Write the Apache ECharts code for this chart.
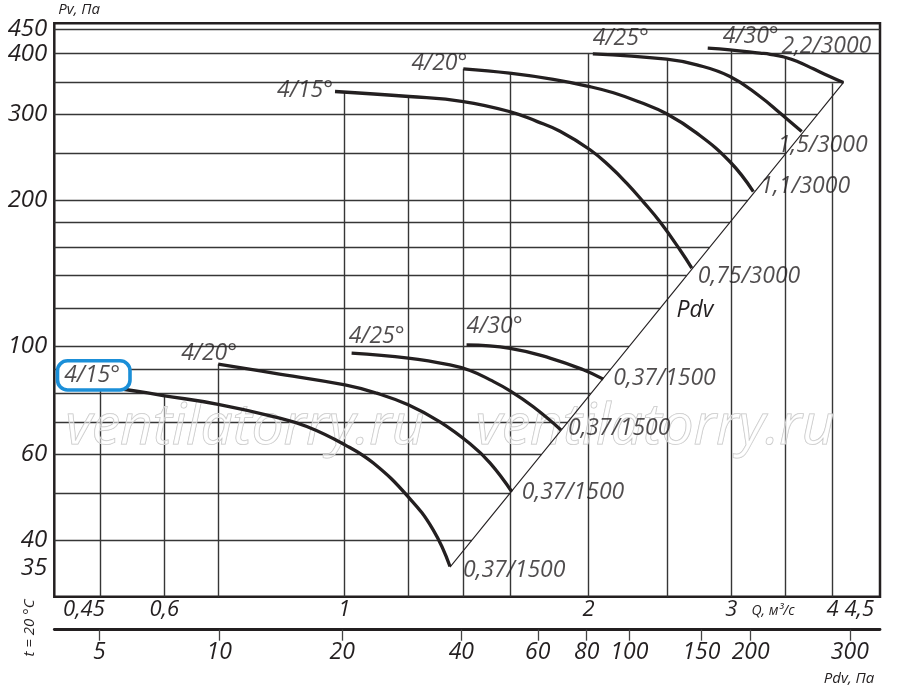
<!DOCTYPE html>
<html>
<head>
<meta charset="utf-8">
<script src="https://cdn.jsdelivr.net/npm/echarts@6.0.0/dist/echarts.min.js"></script>
<style>
  html, body { margin: 0; padding: 0; background: #fff; }
  #chart { width: 900px; height: 689px; }
</style>
</head>
<body>
<div id="chart"></div>
<script>
// ranges of the frame (log axes)
const qRange = [0.439, 4.576];
const pvRange = [30.6, 462];

// tick labels
const qLabels = [0.45, 0.6, 1, 2, 3, 4, 4.5];
const qLabelText = ['0,45', '0,6', '1', '2', '3', '4', '4,5'];
const pvLabels = [35, 40, 60, 100, 200, 300, 400, 450];
const pdvLabels = ['5', '10', '20', '40', '60', '80', '100', '150', '200', '300'];
// where each Pdv tick sits on the Q scale
const pdvTickQ = [0.499, 0.701, 0.994, 1.394, 1.732, 1.99, 2.246, 2.756, 3.17, 4.2];

// grid: vertical lines run up to the highest curve, horizontal ones stop at the Pdv line
const qGrid = [0.5, 0.6, 0.7, 1, 1.2, 1.4, 1.6, 2, 2.5, 3, 3.5, 4];
const qGridTop = [82, 79, 92, 333.5, 326.7, 372.4, 364.9, 400, 389.9, 408, 394.8, 348];
const pvGrid = [40, 50, 60, 70, 80, 90, 100, 120, 140, 160, 180, 200, 250, 300, 350, 400, 450];
const pdvLine = [[1.35, 35.2], [4.124, 349]];

// curves: Q, m3/s -> Pv, Pa
const angles = ['4/15°', '4/20°', '4/25°', '4/30°'];
const powerLow = ['0,37/1500', '0,37/1500', '0,37/1500', '0,37/1500'];
const powerHigh = ['0,75/3000', '1,1/3000', '1,5/3000', '2,2/3000'];

const low15 = [[0.5, 82.4], [0.534, 81.7], [0.598, 79.3], [0.699, 76.1], [0.818, 71.8], [0.899, 68.5],
  [1.002, 62.8], [1.086, 57.6], [1.199, 49.1], [1.287, 42.0], [1.35, 35.3]];
const low20 = [[0.699, 92.0], [0.818, 88.2], [1.002, 83.4], [1.096, 80.2], [1.199, 75.9], [1.312, 70.0],
  [1.429, 63.1], [1.513, 57.6], [1.609, 50.3]];
const low25 = [[1.021, 96.9], [1.199, 94.7], [1.35, 91.7], [1.429, 89.3], [1.513, 85.4], [1.601, 81.1],
  [1.71, 75.2], [1.85, 67.4]];
const low30 = [[1.415, 100.8], [1.601, 99.2], [1.793, 94.7], [1.971, 89.6], [2.086, 85.7]];

const high15 = [[0.974, 334.5], [1.202, 326.7], [1.402, 319.0], [1.599, 304.2], [1.727, 290.4], [1.845, 277.1],
  [2.009, 253.9], [2.126, 234.5], [2.229, 216.8], [2.337, 198.4], [2.45, 180.5], [2.594, 158.0], [2.682, 145.0]];
const high20 = [[1.402, 372.4], [1.599, 364.9], [1.81, 354.4], [2.0, 342.8], [2.147, 332.5], [2.316, 317.8],
  [2.497, 301.0], [2.72, 274.7], [2.989, 239.9], [3.194, 208.3]];
const high25 = [[2.025, 399.9], [2.497, 389.9], [2.72, 379.6], [2.989, 359.2], [3.255, 326.7], [3.445, 302.0],
  [3.664, 276.8]];
const high30 = [[2.806, 410.8], [2.989, 407.5], [3.255, 401.2], [3.349, 399.0], [3.485, 393.9], [3.625, 385.1],
  [3.787, 372.4], [3.949, 360.4], [4.124, 349.0]];

const curvesLow = [low15, low20, low25, low30];
const curvesHigh = [high15, high20, high25, high30];

const ink = '#231f20';
const font = '"Open Sans", "DejaVu Sans", sans-serif';

// label placement next to curve start / end points
const lowStartPos = [['center', [-8, -12]], ['center', [-9, -11]], ['center', [25, -17]], ['center', [28, -18]]];
const lowEndPos = [['left', [13, 4]], ['left', [10, 1]], ['left', [7, -1]], ['left', [10, -1]]];
const highStartPos = [['right', [-2, -1]], ['right', [4, -5]], ['left', [0, -15]], ['left', [15, -12]]];
const highEndPos = [['left', [6, 8]], ['left', [7, -5]], ['center', [21, 14]], ['center', [-17, -36]]];

function nearest(arr, v) {
  let best = 0;
  arr.forEach((a, i) => { if (Math.abs(Math.log(a / v)) < Math.abs(Math.log(arr[best] / v))) best = i; });
  return best;
}

function pdvLineQ(pv) {
  const a = pdvLine[0], b = pdvLine[1];
  if (pv > b[1] * 1.01) return qRange[1];
  const t = (Math.log(pv) - Math.log(a[1])) / (Math.log(b[1]) - Math.log(a[1]));
  return Math.exp(Math.log(a[0]) + t * (Math.log(b[0]) - Math.log(a[0])));
}

const gridSegments = [];
qGrid.forEach((q, i) => gridSegments.push({ coords: [[q, pvRange[0]], [q, qGridTop[i]]] }));
pvGrid.forEach(pv => gridSegments.push({ coords: [[qRange[0], pv], [pdvLineQ(pv), pv]] }));

const labelData = [];
function addLabel(point, text, pos) {
  labelData.push({ value: point, label: { formatter: text, align: pos[0], offset: pos[1] } });
}
curvesLow.forEach((c, i) => {
  addLabel(c[0], angles[i], lowStartPos[i]);
  addLabel(c[c.length - 1], powerLow[i], lowEndPos[i]);
});
curvesHigh.forEach((c, i) => {
  addLabel(c[0], angles[i], highStartPos[i]);
  addLabel(c[c.length - 1], powerHigh[i], highEndPos[i]);
});

const curveSeries = curvesLow.concat(curvesHigh).map(c => ({
  type: 'line',
  data: c,
  smooth: 0.45,
  showSymbol: false,
  z: 3,
  lineStyle: { color: ink, width: 3.3 },
}));

const chart = echarts.init(document.getElementById('chart'));

const option = {
  backgroundColor: '#fff',
  animation: false,
  grid: {
    left: 54.3, right: 20, top: 23.3, bottom: 92.3,
    show: true, borderColor: ink, borderWidth: 2.5, backgroundColor: 'transparent',
  },
  xAxis: [
    {
      type: 'log',
      min: qRange[0],
      max: qRange[1],
      axisLine: { show: false, onZero: false },
      axisTick: { show: false },
      splitLine: { show: false },
      minorSplitLine: { show: false },
      axisLabel: {
        customValues: qLabels,
        formatter: v => qLabelText[nearest(qLabels, v)],
        color: ink, fontFamily: font, fontStyle: 'italic', fontSize: 22,
        margin: 2,
        alignMinLabel: 'left',
        alignMaxLabel: 'right',
      },
    },
    {
      type: 'log',
      min: qRange[0],
      max: qRange[1],
      position: 'bottom',
      offset: 33,
      axisLine: { show: true, onZero: false, lineStyle: { color: ink, width: 2.8 } },
      axisTick: { show: true, customValues: pdvTickQ, length: 11, lineStyle: { color: '#444', width: 1.3 } },
      splitLine: { show: false },
      axisLabel: {
        customValues: pdvTickQ,
        formatter: v => pdvLabels[nearest(pdvTickQ, v)],
        color: ink, fontFamily: font, fontStyle: 'italic', fontSize: 23,
        margin: 11,
      },
    },
  ],
  yAxis: {
    type: 'log',
    min: pvRange[0],
    max: pvRange[1],
    axisLine: { show: false },
    axisTick: { show: false },
    splitLine: { show: false },
    axisLabel: {
      customValues: pvLabels,
      color: ink, fontFamily: font, fontStyle: 'italic', fontSize: 24,
      margin: 7,
    },
    name: 'Pv, Па',
    nameLocation: 'end',
    nameGap: 6,
    nameTextStyle: {
      align: 'left', verticalAlign: 'bottom', padding: [0, 0, 0, 4],
      color: ink, fontFamily: font, fontStyle: 'italic', fontSize: 15,
    },
  },
  graphic: [
    {
      type: 'text', x: 245, y: 428, z: 2, silent: true,
      style: {
        text: 'ventilatorry.ru', align: 'center', verticalAlign: 'middle',
        fontFamily: font, fontStyle: 'italic', fontSize: 57,
        fill: 'rgba(255,255,255,0.5)', stroke: '#c2c2c2', lineWidth: 1,
      },
    },
    {
      type: 'text', x: 655, y: 428, z: 2, silent: true,
      style: {
        text: 'ventilatorry.ru', align: 'center', verticalAlign: 'middle',
        fontFamily: font, fontStyle: 'italic', fontSize: 57,
        fill: 'rgba(255,255,255,0.5)', stroke: '#c2c2c2', lineWidth: 1,
      },
    },
    {
      type: 'rect', z: 4, silent: true,
      shape: { x: 57.5, y: 360.8, width: 72.5, height: 29.2, r: 10 },
      style: { fill: '#fff', stroke: '#1b8fd8', lineWidth: 3.6 },
    },
    {
      type: 'text', x: 695, y: 310, z: 4, silent: true,
      style: { text: 'Pdv', align: 'center', verticalAlign: 'middle', fill: ink,
        fontFamily: font, fontStyle: 'italic', fontSize: 23 },
    },
    {
      type: 'text', x: 773, y: 611, z: 4, silent: true,
      style: { text: 'Q, м³/с', align: 'center', verticalAlign: 'middle', fill: ink,
        fontFamily: font, fontStyle: 'italic', fontSize: 14 },
    },
    {
      type: 'text', x: 849, y: 679, z: 4, silent: true,
      style: { text: 'Pdv, Па', align: 'center', verticalAlign: 'middle', fill: ink,
        fontFamily: font, fontStyle: 'italic', fontSize: 15 },
    },
    {
      type: 'text', x: 30, y: 628, z: 4, silent: true, rotation: Math.PI / 2,
      style: { text: 't = 20 °C', align: 'center', verticalAlign: 'middle', fill: ink,
        fontFamily: font, fontStyle: 'italic', fontSize: 15 },
    },
  ],
  series: [
    {
      type: 'lines',
      coordinateSystem: 'cartesian2d',
      silent: true,
      z: 1,
      lineStyle: { color: '#363636', width: 1.4, opacity: 1 },
      data: gridSegments,
    },
    {
      type: 'line',
      data: pdvLine,
      showSymbol: false,
      silent: true,
      z: 2,
      lineStyle: { color: ink, width: 1.1 },
    },
    ...curveSeries,
    {
      type: 'scatter',
      data: labelData,
      symbolSize: 2,
      silent: true,
      z: 5,
      itemStyle: { color: 'rgba(0,0,0,0)' },
      label: {
        show: true,
        position: 'inside',
        verticalAlign: 'middle',
        color: ink, fontFamily: font, fontStyle: 'italic', fontSize: 23,
      },
    },
  ],
};

chart.setOption(option);
</script>
</body>
</html>
